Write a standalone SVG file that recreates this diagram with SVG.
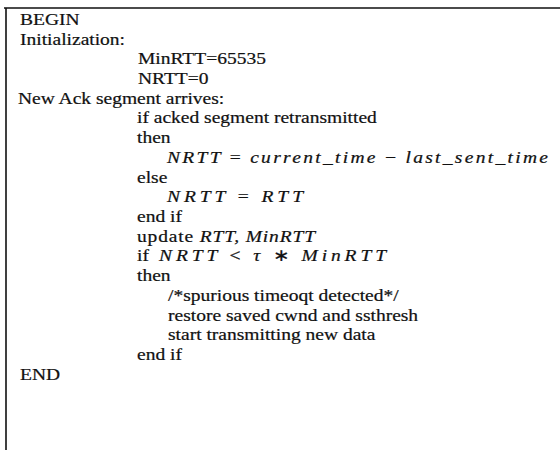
<svg xmlns="http://www.w3.org/2000/svg" width="560" height="450" viewBox="0 0 560 450">
<style>
text{font-family:"Liberation Serif","Times New Roman",serif;font-size:19.5px;fill:#111;stroke:#111;stroke-width:0.25}
.m{font-style:italic}
.i{font-style:italic}
.u{font-style:normal}
.frame{stroke:#111;stroke-width:1.6;fill:none}
</style>
<rect width="560" height="450" fill="#fff"/>
<g id="frame">
<path class="frame" d="M4 8 H560 M6 8 V450"/>
</g>
<g id="code" transform="scale(1,0.8571)">
<text x="20" y="29">BEGIN</text>
<text x="20" y="52">Initialization:</text>
<text x="138" y="75">MinRTT=65535</text>
<text x="138" y="98">NRTT=0</text>
<text x="18" y="121">New Ack segment arrives:</text>
<text x="137" y="144">if acked segment retransmitted</text>
<text x="137" y="167">then</text>
<text x="167" y="190" class="m" textLength="381" lengthAdjust="spacing">NRTT <tspan class="u">=</tspan> current_time <tspan class="u">−</tspan> last_sent_time</text>
<text x="137" y="213">else</text>
<text x="167" y="236" class="m" textLength="136" lengthAdjust="spacing">NRTT <tspan class="u">=</tspan> RTT</text>
<text x="137" y="259">end if</text>
<text x="137" y="282" textLength="178" lengthAdjust="spacing">update <tspan class="i">RTT, MinRTT</tspan></text>
<text x="137" y="305">if</text>
<text x="159" y="305" class="m" textLength="227" lengthAdjust="spacing">NRTT <tspan class="u">&lt;</tspan> τ <tspan class="u">∗</tspan> MinRTT</text>
<text x="137" y="328">then</text>
<text x="168" y="351">/*spurious timeoqt detected*/</text>
<text x="168" y="374">restore saved cwnd and ssthresh</text>
<text x="168" y="397">start transmitting new data</text>
<text x="137" y="420">end if</text>
<text x="20" y="443">END</text>
</g>
</svg>
